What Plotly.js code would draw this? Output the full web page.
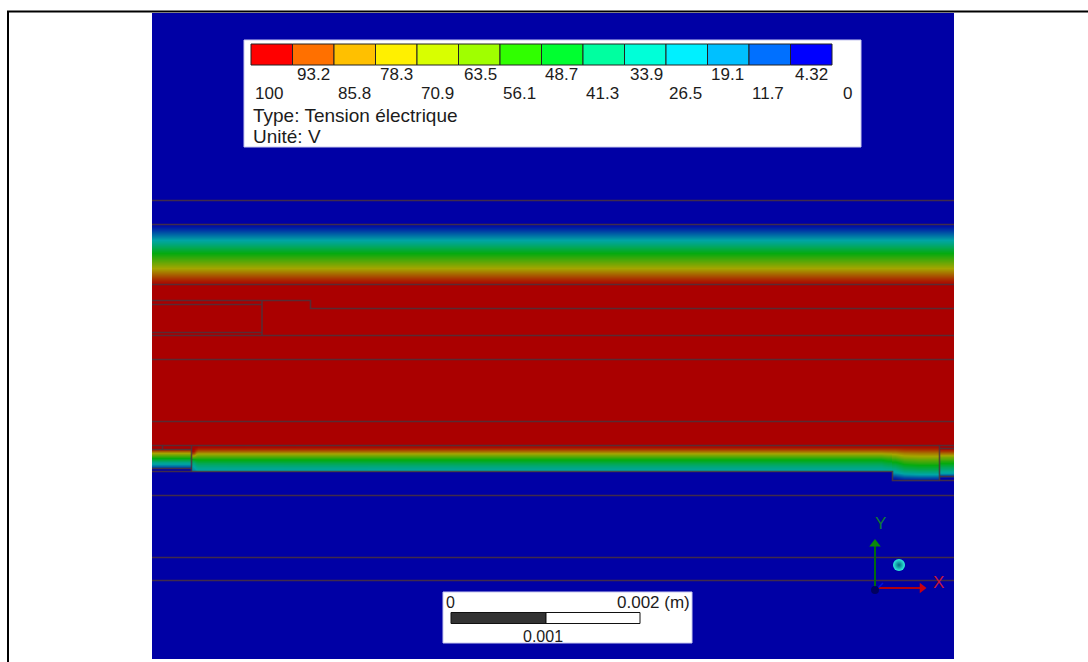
<!DOCTYPE html>
<html>
<head>
<meta charset="utf-8">
<script src="https://cdn.plot.ly/plotly-3.0.1.min.js"></script>
<style>html,body{margin:0;padding:0;background:#fff}#chart{width:1088px;height:662px}</style>
</head>
<body>
<div id="chart"></div>
<script>
// Potential colour scale (V) of the shaded field
var fieldScale = [[0,'rgb(0,0,165)'],[0.25,'rgb(0,165,165)'],[0.5,'rgb(5,170,15)'],[0.75,'rgb(165,165,0)'],[1,'rgb(170,0,0)']];

// Uniform regions: [x0, x1, y0, y1, volts]
var solidBlocks = [
  [152, 954, 13, 659, 0],
  [152, 954, 284, 446, 100],
  [152, 192, 446, 449, 100],
  [940, 954, 445, 448, 100]
];

// Upper gradient band
var upperX = [152, 954];
var upperY = [224,227,230,233,236,239,242,245,248,251,254,257,260,263,266,269,272,275,278,281,284];
var upperV = [2,6,11,16,21,26,31,37,43,49,54,59,64,69,74,79,84,89,94,98];

// Lower gradient band: four pieces, values by row then column
var leftX = [152, 192];
var leftY = [449,451,453,455,457,459,461,463,465,467,469];
var leftV = [92,80,70,60,50,40,30,24,16,8];

var mainX = [192,195,198,878,884,892];
var mainY = [446,448,450,452,454,456,458,460,462,464,466,468,470,472];
var mainColumns = [
  [100,100,98,90,78,64,50,40,32,28,24,22,20],
  [100,96,88,78,70,61,52,45,38,33,29,26,23],
  [98,92,84,76,68,60,52,46,40,35,31,28,25],
  [98,92,84,76,68,60,52,46,40,35,31,28,25],
  [98,92,85,77,70,62,55,49,43,38,33,29,26]
];

var bendX = [892,898,904,934,940];
var bendY = [446,448,450,452,454,456,458,460,462,464,466,468,470,472,474,476,478,480,482];
var bendColumns = [
  [98,92,85,78,72,65,58,52,46,40,35,30,26,22,15,8,3,1],
  [98,93,87,80,75,69,62,56,51,45,40,35,30,25,18,11,5,2],
  [98,94,88,82,77,72,66,61,56,50,45,40,34,28,22,14,7,2],
  [98,94,88,82,77,72,66,61,56,50,45,40,34,28,22,14,7,2]
];

var rightX = [940, 954];
var rightY = [448,450,452,454,456,458,460,462,464,466,468,470,472,474,476,478];
var rightV = [98,92,84,76,68,62,55,50,44,38,33,28,24,14,4];

// Mesh / geometry outlines: each [xs, ys]
var outlines = [
  [[152,954],[200.5,200.5]],
  [[152,954],[224.5,224.5]],
  [[152,954],[284.5,284.5]],
  [[152,310.5,310.5,954],[300.5,300.5,308.5,308.5]],
  [[152,262],[304.5,304.5]],
  [[152,262],[332.5,332.5]],
  [[152,954],[335.5,335.5]],
  [[262,262],[300.5,335.5]],
  [[152,954],[359.5,359.5]],
  [[152,954],[421.5,421.5]],
  [[152,954],[445.5,445.5]],
  [[152,192],[449.5,449.5]],
  [[162.5,162.5],[445.5,449.5]],
  [[152,192],[468.5,468.5]],
  [[191.5,191.5],[445.5,471.5]],
  [[152,892.5,892.5,954],[471.5,471.5,480.5,480.5]],
  [[939.5,939.5],[445.5,480.5]],
  [[940,954],[448.5,448.5]],
  [[940,954],[476.5,476.5]],
  [[152,954],[495.5,495.5]],
  [[152,954],[557.5,557.5]],
  [[152,954],[580.5,580.5]]
];

// Legend
var legendColors = ['#ff0000','#ff7000','#ffc000','#fff000','#d8ff00','#a0ff00','#30ff00','#00ff30','#00ffa0','#00ffd8','#00f0ff','#00c0ff','#0070ff','#0000ff'];
var legendUpperLabels = ['93.2','78.3','63.5','48.7','33.9','19.1','4.32'];
var legendUpperX = [313,396,480,561,646,727,811];
var legendLowerLabels = ['100','85.8','70.9','56.1','41.3','26.5','11.7','0'];
var legendLowerX = [269,354,437,519,602,685,768,847];
var legendLines = ['Type: Tension électrique','Unité: V'];

// Outer frame
var frameX = [1088, 8, 8];
var frameY = [11.5, 11.5, 662];

function seq(n, f){ var a = []; for (var i = 0; i < n; i++) a.push(f(i)); return a; }
function transpose(cols){ return cols[0].map(function(_, r){ return cols.map(function(c){ return c[r]; }); }); }
function vector(v){ return v.map(function(a){ return [a, a]; }); }

var heat = {type:'heatmap', colorscale:fieldScale, zmin:0, zmax:100, showscale:false, hoverinfo:'skip'};
function field(x, y, z, smooth){ return Object.assign({}, heat, {x:x, y:y, z:z, zsmooth:smooth}); }

var traces = [];
solidBlocks.forEach(function(b){
  traces.push(field([b[0], b[1]], [b[2], b[3]], [[b[4]]], false));
});
// split the two-value x edges into a pair of equal columns for smoothing
function halved(x){ return [x[0], (x[0]+x[1])/2, x[1]]; }
traces.push(field(halved(upperX), upperY, vector(upperV), 'best'));
traces.push(field(halved(leftX), leftY, vector(leftV), 'best'));
traces.push(field(mainX, mainY, transpose(mainColumns), 'best'));
traces.push(field(bendX, bendY, transpose(bendColumns), 'best'));
traces.push(field(halved(rightX), rightY, vector(rightV), 'best'));

// White panels, legend swatches and scale bar as bars
function bar(xc, w, base, h, color, line, lw){
  return {type:'bar', x:xc, y:h, base:base, width:w,
    marker:{color:color, line:{color:line, width:lw}}, hoverinfo:'skip'};
}
traces.push(bar([552.5],[617],[40],[107],'#ffffff','#c8c8f0',1));
traces.push(bar([567.5],[249],[592],[51],'#ffffff','#c8c8f0',1));
var swatchW = 581/14;
traces.push(bar(seq(14,function(i){return 251+swatchW*(i+0.5);}),
  seq(14,function(){return swatchW;}),
  seq(14,function(){return 44;}),
  seq(14,function(){return 21;}),
  legendColors,'#222222',1));
traces.push(bar([498.5,593],[95,94],[612.5,612.5],[11,11],['#333333','#ffffff'],'#111111',1));

// Outlines
outlines.forEach(function(o){
  traces.push({type:'scatter', mode:'lines', x:o[0], y:o[1], hoverinfo:'skip',
    line:{color:'rgba(75,50,60,0.85)', width:1.6}});
});

// Triad
traces.push({type:'scatter', mode:'lines', x:[875,875], y:[590,546], hoverinfo:'skip', line:{color:'#006a10', width:2}});
traces.push({type:'scatter', mode:'lines', x:[878,920], y:[588,588], hoverinfo:'skip', line:{color:'#b00010', width:2}});
traces.push({type:'scatter', mode:'lines', x:[877,883], y:[589,583], hoverinfo:'skip', line:{color:'#0010e0', width:1.5}});
traces.push({type:'scatter', mode:'markers', x:[875], y:[544], hoverinfo:'skip', marker:{symbol:'triangle-up', size:10, color:'#0a8a0a'}});
traces.push({type:'scatter', mode:'markers', x:[922], y:[588], hoverinfo:'skip', marker:{symbol:'triangle-right', size:9, color:'#c80010'}});
traces.push({type:'scatter', mode:'markers', x:[875], y:[590], hoverinfo:'skip', marker:{size:8, color:'#000060'}});
traces.push({type:'scatter', mode:'markers', x:[899], y:[565], hoverinfo:'skip', marker:{size:12, color:'#30f0e0', gradient:{type:'radial', color:'#006a80'}}});

// Frame
traces.push({type:'scatter', mode:'lines', x:frameX, y:frameY, hoverinfo:'skip', line:{color:'#000000', width:2}});

var F = 'Liberation Sans, Arial, sans-serif';
function note(t, x, y, anchor, size, color){
  return {text:t, x:x, y:y, xref:'x', yref:'y', xanchor:anchor||'center', yanchor:'middle',
    showarrow:false, borderpad:0, font:{family:F, size:size||17, color:color||'#1c1c1c'}};
}
var annotations = [];
legendUpperLabels.forEach(function(t,i){ annotations.push(note(t, legendUpperX[i], 74)); });
legendLowerLabels.forEach(function(t,i){ annotations.push(note(t, legendLowerX[i], 93)); });
annotations.push(note(legendLines[0], 252, 115.5, 'left', 19));
annotations.push(note(legendLines[1], 252, 136.5, 'left', 19));
annotations.push(note('0', 450, 602, 'center', 16));
annotations.push(note('0.002 (m)', 691, 602, 'right', 17));
annotations.push(note('0.001', 543, 636, 'center', 16));
annotations.push(note('Y', 880, 523, 'center', 17, '#107838'));
annotations.push(note('X', 938, 582, 'center', 17, '#c01838'));

var axisBase = {visible:false, showgrid:false, zeroline:false, fixedrange:true};
var layout = {
  width:1088, height:662, margin:{l:0,r:0,t:0,b:0},
  paper_bgcolor:'#ffffff', plot_bgcolor:'#ffffff',
  showlegend:false, barmode:'overlay', bargap:0,
  xaxis:Object.assign({}, axisBase, {range:[0,1088]}),
  yaxis:Object.assign({}, axisBase, {range:[662,0]}),
  annotations:annotations
};
Plotly.newPlot('chart', traces, layout, {displayModeBar:false, staticPlot:true});
</script>
</body>
</html>
